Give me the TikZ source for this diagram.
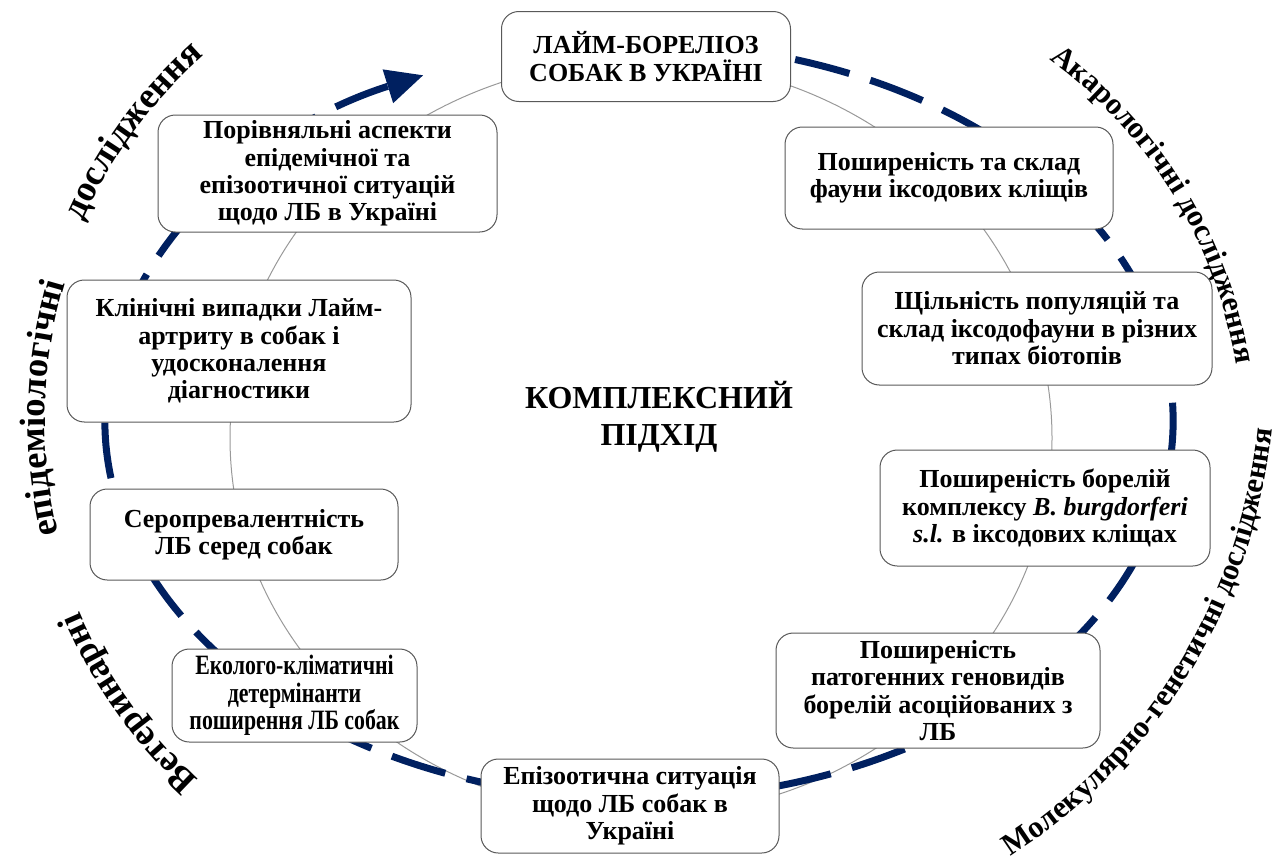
\documentclass[tikz,border=0pt]{standalone}
\usepackage{fontspec}
\setmainfont{Liberation Serif}
\usetikzlibrary{arrows.meta,decorations.text}
\definecolor{navy}{RGB}{0,32,96}
\newcommand\leftfont{\fontsize{27.5}{32}\selectfont\bfseries}
\newcommand\rightfont{\fontsize{23}{27}\selectfont\bfseries}
\newcommand\boxfont{\fontsize{19.5}{20.6}\selectfont\bfseries}
\newcommand\narrowfont{\fontsize{21}{20.6}\selectfont\bfseries\addfontfeatures{FakeStretch=0.78}}
\tikzset{
  box/.style={draw=black!65, line width=0.75pt, rounded corners=13pt, fill=white,
    align=center, inner sep=0pt, font=\boxfont},
  narrowbox/.style={box, font=\narrowfont},
  arctext/.style={decorate, decoration={text along path, text align=center, text={#1}}},
  ring/.style={draw=black!40, line width=0.75pt},
  cycle/.style={draw=navy, line width=5.25pt, dash pattern=on 42pt off 16.5pt,
    -{Triangle[length=28pt,width=25pt]}},
}
\begin{document}
\begin{tikzpicture}[x=0.75pt,y=0.75pt]
\useasboundingbox (0,0) rectangle (1284,-861);
% thin ring
\draw[ring] (641,-438) ellipse [x radius=411, y radius=378];
% dashed cycle arrow
\draw[cycle] (639,-421) ++(73:534 and 378)
  arc[start angle=73, end angle=-246.2, x radius=534, y radius=378];
% outer curved labels
\path[arctext={|\leftfont|Ветеринарні}] (527,-420) ++(235.4:487)
  arc[start angle=235.4, end angle=195.4, radius=487];
\path[arctext={|\leftfont|епідеміологічні}] (527,-420) ++(198.6:482)
  arc[start angle=198.6, end angle=158.6, radius=482];
\path[arctext={|\leftfont|дослідження}] (527,-420) ++(163.7:487)
  arc[start angle=163.7, end angle=123.7, radius=487];
\path[arctext={|\rightfont|Акарологічні дослідження}] (770,-440) ++(76.5:472)
  arc[start angle=76.5, end angle=-13.5, radius=472];
\path[arctext={|\rightfont|Молекулярно-генетичні дослідження}] (699,-372) ++(-81.5:576)
  arc[start angle=-81.5, end angle=18.5, radius=576];
% boxes
\node[box, minimum width=216.75pt, minimum height=67.5pt] (b1) at (646,-56.5) {ЛАЙМ-БОРЕЛІОЗ\\СОБАК В УКРАЇНІ};
\node[box, minimum width=254.25pt, minimum height=87.75pt] (b2) at (327.5,-173.5) {Порівняльні аспекти\\епідемічної та\\епізоотичної ситуацій\\щодо ЛБ в Україні};
\node[box, minimum width=246pt, minimum height=76.5pt] (b3) at (949,-178) {Поширеність та склад\\фауни іксодових кліщів};
\node[box, minimum width=262.5pt, minimum height=84.75pt] (b4) at (1037,-328.5) {Щільність популяцій та\\склад іксодофауни в різних\\типах біотопів};
\node[box, minimum width=258pt, minimum height=106.5pt] (b5) at (239,-351) {Клінічні випадки Лайм-\\артриту в собак і\\удосконалення\\діагностики};
\node[box, minimum width=247.5pt, minimum height=87pt] (b6) at (1045,-508) {Поширеність борелій\\комплексу \textit{B. burgdorferi}\\\textit{s.l.} в іксодових кліщах};
\node[box, minimum width=231pt, minimum height=68.25pt] (b7) at (244,-534.5) {Серопревалентність\\ЛБ серед собак};
\node[narrowbox, minimum width=183.75pt, minimum height=69.75pt] (b8) at (294.5,-695.5) {Еколого-кліматичні\\детермінанти\\поширення ЛБ собак};
\node[box, minimum width=243pt, minimum height=86.25pt] (b9) at (938,-690.5) {Поширеність\\патогенних геновидів\\борелій асоційованих з\\ЛБ};
\node[box, minimum width=223.5pt, minimum height=70.5pt] (b10) at (630,-806) {Епізоотична ситуація\\щодо ЛБ собак в\\Україні};
% centre
\node[align=center, font=\fontsize{24}{27.5}\selectfont\bfseries] (c) at (659,-417) {КОМПЛЕКСНИЙ\\ПІДХІД};
\end{tikzpicture}
\end{document}
